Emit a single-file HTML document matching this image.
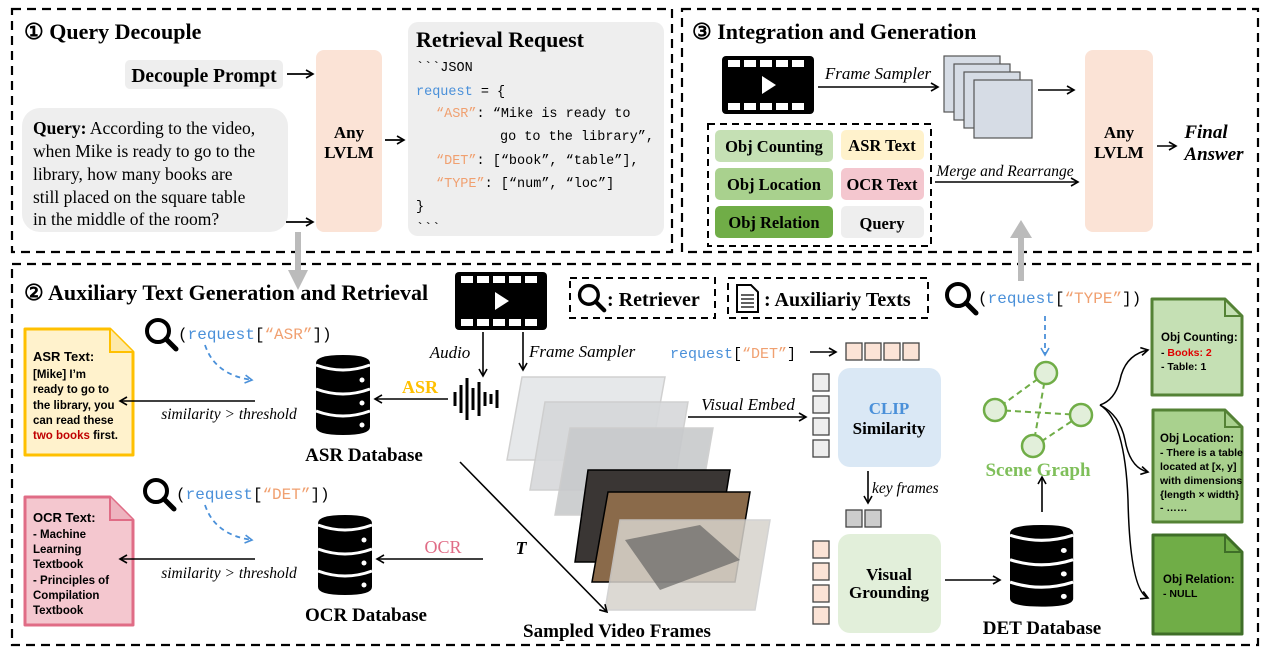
<!DOCTYPE html>
<html><head><meta charset="utf-8"><style>
html,body{margin:0;padding:0;background:#fff;}
svg{display:block;}
.s{font-family:"Liberation Serif",serif;}
.m{font-family:"Liberation Mono",monospace;}
.b{font-weight:bold;}
.i{font-style:italic;}
</style></head><body>
<svg width="1268" height="656" viewBox="0 0 1268 656" xmlns="http://www.w3.org/2000/svg">
<defs>
<marker id="a" markerWidth="10" markerHeight="10" refX="8" refY="5" orient="auto" markerUnits="userSpaceOnUse"><path d="M1,1 L8,5 L1,9" fill="none" stroke="#000" stroke-width="1.6"/></marker>
<marker id="ab" markerWidth="10" markerHeight="10" refX="8" refY="5" orient="auto" markerUnits="userSpaceOnUse"><path d="M1,1 L8,5 L1,9" fill="none" stroke="#4a90d9" stroke-width="1.6"/></marker>
<g id="db"><path d="M0,8 Q0,0 27,0 Q54,0 54,8 L54,72 Q54,80 27,80 Q0,80 0,72Z" fill="#000"/><path d="M0,10 Q27,20 54,10 M0,34 Q27,44 54,34 M0,56 Q27,66 54,56" stroke="#fff" stroke-width="3" fill="none"/><circle cx="46" cy="25" r="2.5" fill="#fff"/><circle cx="46" cy="48" r="2.5" fill="#fff"/><circle cx="46" cy="70" r="2.5" fill="#fff"/></g>
<g id="mg"><circle cx="14" cy="14" r="11" fill="none" stroke="#000" stroke-width="4"/><line x1="22" y1="22" x2="32" y2="32" stroke="#000" stroke-width="5" stroke-linecap="round"/></g>
<g id="film"><rect x="0" y="0" width="92" height="58" rx="4" fill="#000"/><g fill="#fff"><rect x="6" y="4" width="12" height="7"/><rect x="22" y="4" width="12" height="7"/><rect x="38" y="4" width="12" height="7"/><rect x="54" y="4" width="12" height="7"/><rect x="70" y="4" width="12" height="7"/><rect x="6" y="47" width="12" height="7"/><rect x="22" y="47" width="12" height="7"/><rect x="38" y="47" width="12" height="7"/><rect x="54" y="47" width="12" height="7"/><rect x="70" y="47" width="12" height="7"/><path d="M40,20 L54,29 L40,38Z"/></g></g>
</defs>

<rect x="12" y="9" width="660" height="243" fill="none" stroke="#000" stroke-width="2.2" stroke-dasharray="9,6"/>
<rect x="682" y="9" width="576" height="243" fill="none" stroke="#000" stroke-width="2.2" stroke-dasharray="9,6"/>
<rect x="12" y="264" width="1246" height="381" fill="none" stroke="#000" stroke-width="2.2" stroke-dasharray="9,6"/>

<!-- section 1 -->
<text x="24" y="39" class="s b" font-size="22">① Query Decouple</text>
<rect x="125" y="60" width="158" height="29" rx="5" fill="#eeeeee"/>
<text x="204" y="82" class="s b" font-size="19.5" text-anchor="middle">Decouple Prompt</text>
<line x1="287" y1="74" x2="313" y2="74" stroke="#000" stroke-width="1.8" marker-end="url(#a)"/>
<rect x="22" y="108" width="266" height="124" rx="18" fill="#eeeeee"/>
<g class="s" font-size="17.5">
<text x="33" y="134"><tspan class="b">Query:</tspan> According to the video,</text>
<text x="33" y="157">when Mike is ready to go to the</text>
<text x="33" y="180">library, how many books are</text>
<text x="33" y="203">still placed on the square table</text>
<text x="33" y="225">in the middle of the room?</text>
</g>
<line x1="286" y1="222" x2="313" y2="222" stroke="#000" stroke-width="1.8" marker-end="url(#a)"/>
<rect x="316" y="50" width="66" height="182" rx="8" fill="#fbe3d6"/>
<text x="349" y="138" class="s b" font-size="17" text-anchor="middle">Any</text>
<text x="349" y="158" class="s b" font-size="17" text-anchor="middle">LVLM</text>
<line x1="385" y1="140" x2="404" y2="140" stroke="#000" stroke-width="1.8" marker-end="url(#a)"/>
<rect x="408" y="22" width="256" height="214" rx="10" fill="#eeeeee"/>
<text x="416" y="47" class="s b" font-size="22">Retrieval Request</text>
<g class="m" font-size="13.5">
<text x="416" y="71">&#96;&#96;&#96;JSON</text>
<text x="416" y="95"><tspan fill="#4a90d9">request</tspan> = {</text>
<text x="436" y="117"><tspan fill="#f0a070">“ASR”</tspan>: “Mike is ready to</text>
<text x="500" y="140">go to the library”,</text>
<text x="436" y="164"><tspan fill="#f0a070">“DET”</tspan>: [“book”, “table”],</text>
<text x="436" y="187"><tspan fill="#f0a070">“TYPE”</tspan>: [“num”, “loc”]</text>
<text x="416" y="210">}</text>
<text x="416" y="232">&#96;&#96;&#96;</text>
</g>
<rect x="295" y="232" width="6" height="40" fill="#bbb"/>
<path d="M288,270 L308,270 L298,290Z" fill="#bbb"/>

<!-- section 3 -->
<text x="692" y="39" class="s b" font-size="22">③ Integration and Generation</text>
<use href="#film" x="722" y="56"/>
<text x="878" y="79" class="s i" font-size="17" text-anchor="middle">Frame Sampler</text>
<line x1="818" y1="87" x2="938" y2="87" stroke="#000" stroke-width="1.6" marker-end="url(#a)"/>
<g stroke="#555" stroke-width="1.2" fill="#d6dce5">
<rect x="944" y="56" width="56" height="56"/><rect x="954" y="64" width="56" height="56"/><rect x="964" y="72" width="56" height="56"/><rect x="974" y="80" width="58" height="58"/></g>
<line x1="1038" y1="90" x2="1074" y2="90" stroke="#000" stroke-width="1.6" marker-end="url(#a)"/>
<rect x="1085" y="50" width="68" height="182" rx="8" fill="#fbe3d6"/>
<text x="1119" y="138" class="s b" font-size="17" text-anchor="middle">Any</text>
<text x="1119" y="158" class="s b" font-size="17" text-anchor="middle">LVLM</text>
<line x1="1157" y1="146" x2="1176" y2="146" stroke="#000" stroke-width="1.6" marker-end="url(#a)"/>
<text x="1206" y="138" class="s b i" font-size="19" text-anchor="middle">Final</text>
<text x="1214" y="160" class="s b i" font-size="19" text-anchor="middle">Answer</text>
<rect x="708" y="124" width="223" height="122" fill="none" stroke="#000" stroke-width="2" stroke-dasharray="7,5"/>
<g class="s b" font-size="16.5" text-anchor="middle">
<rect x="715" y="130" width="118" height="32" rx="5" fill="#c5e0b4"/><text x="774" y="152">Obj Counting</text>
<rect x="841" y="130" width="83" height="30" rx="5" fill="#fff2cc"/><text x="882" y="151">ASR Text</text>
<rect x="715" y="168" width="118" height="32" rx="5" fill="#a9d18e"/><text x="774" y="190">Obj Location</text>
<rect x="841" y="168" width="83" height="32" rx="5" fill="#f4c7cf"/><text x="882" y="190">OCR Text</text>
<rect x="715" y="206" width="118" height="32" rx="5" fill="#70ad47"/><text x="774" y="228">Obj Relation</text>
<rect x="841" y="206" width="83" height="32" rx="5" fill="#eeeeee"/><text x="882" y="229">Query</text>
</g>
<text x="1005" y="176" class="s i" font-size="15.5" text-anchor="middle">Merge and Rearrange</text>
<line x1="935" y1="182" x2="1078" y2="182" stroke="#000" stroke-width="1.6" marker-end="url(#a)"/>
<rect x="1018" y="236" width="6" height="45" fill="#bbb"/>
<path d="M1010,238 L1032,238 L1021,220Z" fill="#bbb"/>

<!-- section 2 -->
<text x="24" y="300" class="s b" font-size="22">② Auxiliary Text Generation and Retrieval</text>
<use href="#film" x="455" y="272"/>
<rect x="570" y="278" width="145" height="40" fill="none" stroke="#000" stroke-width="2" stroke-dasharray="7,5"/>
<use href="#mg" transform="translate(577,283) scale(0.85)"/>
<text x="607" y="306" class="s b" font-size="20">: Retriever</text>
<rect x="728" y="278" width="200" height="40" fill="none" stroke="#000" stroke-width="2" stroke-dasharray="7,5"/>
<path d="M737,285 L751,285 L758,292 L758,312 L737,312Z" fill="none" stroke="#000" stroke-width="2"/>
<path d="M741,295 L754,295 M741,299 L754,299 M741,303 L754,303 M741,307 L754,307" stroke="#000" stroke-width="1.3"/>
<text x="764" y="306" class="s b" font-size="20">: Auxiliariy Texts</text>

<!-- ASR -->
<path d="M25,329 L110,329 L133,352 L133,455 L25,455Z" fill="#fff2cc" stroke="#ffc000" stroke-width="3" stroke-linejoin="round"/>
<path d="M110,329 L110,352 L133,352" fill="#fde9a8" stroke="#ffc000" stroke-width="2"/>
<g font-family="Liberation Sans,sans-serif" font-size="11.5" font-weight="bold">
<text x="33" y="361" font-size="13">ASR Text:</text>
<text x="33" y="378">[Mike] I’m</text><text x="33" y="393">ready to go to</text><text x="33" y="409">the library, you</text><text x="33" y="424">can read these</text><text x="33" y="439"><tspan fill="#c00000">two books</tspan> first.</text></g>
<use href="#mg" x="144" y="317"/>
<text x="178" y="339" class="m" font-size="16">(<tspan fill="#4a90d9">request</tspan>[<tspan fill="#f0a070">“ASR”</tspan>])</text>
<path d="M205,345 Q215,375 252,380" fill="none" stroke="#4a90d9" stroke-width="1.8" stroke-dasharray="5,4" marker-end="url(#ab)"/>
<use href="#db" x="316" y="355"/>
<text x="364" y="461" class="s b" font-size="19" text-anchor="middle">ASR Database</text>
<line x1="255" y1="401" x2="120" y2="401" stroke="#000" stroke-width="1.6" marker-end="url(#a)"/>
<text x="229" y="419" class="s i" font-size="15.5" text-anchor="middle">similarity &gt; threshold</text>
<text x="420" y="393" class="s b" font-size="18" fill="#ffc000" text-anchor="middle">ASR</text>
<line x1="448" y1="399" x2="375" y2="399" stroke="#000" stroke-width="1.6" marker-end="url(#a)"/>
<g stroke="#000" stroke-width="3"><line x1="455" y1="392" x2="455" y2="406"/><line x1="461" y1="385" x2="461" y2="413"/><line x1="467" y1="378" x2="467" y2="420"/><line x1="473" y1="388" x2="473" y2="410"/><line x1="479" y1="382" x2="479" y2="416"/><line x1="485" y1="392" x2="485" y2="406"/><line x1="491" y1="394" x2="491" y2="404"/><line x1="497" y1="390" x2="497" y2="408"/></g>
<text x="450" y="358" class="s i" font-size="17" text-anchor="middle">Audio</text>
<line x1="483" y1="332" x2="483" y2="376" stroke="#000" stroke-width="1.6" marker-end="url(#a)"/>
<line x1="523" y1="332" x2="523" y2="370" stroke="#000" stroke-width="1.6" marker-end="url(#a)"/>
<text x="529" y="357" class="s i" font-size="17">Frame Sampler</text>

<!-- frames -->
<g stroke="#ccc" stroke-width="1.5">
<path d="M522,377 L665,377 L650,460 L507,460Z" fill="#e4e6e8" opacity="0.9"/>
<path d="M545,402 L688,402 L673,490 L530,490Z" fill="#d6d8da" opacity="0.9"/>
<path d="M570,428 L713,428 L698,515 L555,515Z" fill="#c8cacc" opacity="0.9"/>
<path d="M588,470 L730,470 L715,562 L575,562Z" fill="#3a3634" stroke="#000"/>
<path d="M608,492 L750,492 L735,582 L592,582Z" fill="#8a6a4a" stroke="#000"/>
<path d="M620,520 L770,520 L755,610 L605,610Z" fill="#d7d3cc" opacity="0.85"/>
</g>
<path d="M625,540 L700,525 L740,560 L660,590Z" fill="#555" opacity="0.6"/>
<line x1="460" y1="462" x2="607" y2="612" stroke="#000" stroke-width="1.6" marker-end="url(#a)"/>
<text x="521" y="554" class="s b i" font-size="18" text-anchor="middle">T</text>
<text x="617" y="637" class="s b" font-size="19" text-anchor="middle">Sampled Video Frames</text>

<!-- OCR -->
<path d="M25,497 L110,497 L133,520 L133,625 L25,625Z" fill="#f4c7cf" stroke="#e06c86" stroke-width="3" stroke-linejoin="round"/>
<path d="M110,497 L110,520 L133,520" fill="#eeb3bf" stroke="#e06c86" stroke-width="2"/>
<g font-family="Liberation Sans,sans-serif" font-size="11.5" font-weight="bold">
<text x="33" y="522" font-size="13">OCR Text:</text>
<text x="33" y="538">- Machine</text><text x="33" y="553">Learning</text><text x="33" y="568">Textbook</text><text x="33" y="584">- Principles of</text><text x="33" y="599">Compilation</text><text x="33" y="614">Textbook</text></g>
<use href="#mg" x="142" y="477"/>
<text x="176" y="499" class="m" font-size="16">(<tspan fill="#4a90d9">request</tspan>[<tspan fill="#f0a070">“DET”</tspan>])</text>
<path d="M205,505 Q215,535 252,540" fill="none" stroke="#4a90d9" stroke-width="1.8" stroke-dasharray="5,4" marker-end="url(#ab)"/>
<use href="#db" x="318" y="515"/>
<text x="366" y="621" class="s b" font-size="19" text-anchor="middle">OCR Database</text>
<line x1="255" y1="559" x2="120" y2="559" stroke="#000" stroke-width="1.6" marker-end="url(#a)"/>
<text x="229" y="578" class="s i" font-size="15.5" text-anchor="middle">similarity &gt; threshold</text>
<text x="443" y="553" class="s" font-size="18" fill="#e06c86" text-anchor="middle">OCR</text>
<line x1="483" y1="559" x2="377" y2="559" stroke="#000" stroke-width="1.6" marker-end="url(#a)"/>

<!-- CLIP -->
<text x="670" y="358" class="m" font-size="15"><tspan fill="#4a90d9">request</tspan>[<tspan fill="#f0a070">“DET”</tspan>]</text>
<line x1="810" y1="352" x2="836" y2="352" stroke="#000" stroke-width="1.6" marker-end="url(#a)"/>
<g fill="#fbe3d6" stroke="#444" stroke-width="1.3">
<rect x="846" y="343" width="16" height="17"/><rect x="865" y="343" width="16" height="17"/><rect x="884" y="343" width="16" height="17"/><rect x="903" y="343" width="16" height="17"/></g>
<g fill="#eee" stroke="#444" stroke-width="1.3">
<rect x="813" y="374" width="16" height="17"/><rect x="813" y="396" width="16" height="17"/><rect x="813" y="418" width="16" height="17"/><rect x="813" y="440" width="16" height="17"/></g>
<rect x="838" y="368" width="103" height="99" rx="12" fill="#dae8f5"/>
<text x="889" y="414" class="s b" font-size="17" fill="#4a90d9" text-anchor="middle">CLIP</text>
<text x="889" y="434" class="s b" font-size="17" text-anchor="middle">Similarity</text>
<text x="748" y="410" class="s i" font-size="17" text-anchor="middle">Visual Embed</text>
<line x1="688" y1="417" x2="806" y2="417" stroke="#000" stroke-width="1.6" marker-end="url(#a)"/>
<line x1="868" y1="471" x2="868" y2="503" stroke="#000" stroke-width="1.6" marker-end="url(#a)"/>
<text x="872" y="493" class="s i" font-size="15.5">key frames</text>
<g fill="#ccc" stroke="#444" stroke-width="1.3"><rect x="846" y="510" width="16" height="17"/><rect x="865" y="510" width="16" height="17"/></g>
<g fill="#fbe3d6" stroke="#444" stroke-width="1.3">
<rect x="813" y="541" width="16" height="17"/><rect x="813" y="563" width="16" height="17"/><rect x="813" y="585" width="16" height="17"/><rect x="813" y="607" width="16" height="17"/></g>
<rect x="838" y="534" width="103" height="99" rx="12" fill="#e2efda"/>
<text x="889" y="580" class="s b" font-size="17" text-anchor="middle">Visual</text>
<text x="889" y="598" class="s b" font-size="17" text-anchor="middle">Grounding</text>
<line x1="945" y1="580" x2="1000" y2="580" stroke="#000" stroke-width="1.6" marker-end="url(#a)"/>
<use href="#db" transform="translate(1010,525) scale(1.17,1.02)"/>
<text x="1042" y="634" class="s b" font-size="19" text-anchor="middle">DET Database</text>
<line x1="1042" y1="512" x2="1042" y2="477" stroke="#000" stroke-width="1.6" marker-end="url(#a)"/>

<!-- scene graph -->
<use href="#mg" x="944" y="281"/>
<text x="978" y="303" class="m" font-size="16">(<tspan fill="#4a90d9">request</tspan>[<tspan fill="#f0a070">“TYPE”</tspan>])</text>
<line x1="1045" y1="316" x2="1045" y2="355" stroke="#4a90d9" stroke-width="1.8" stroke-dasharray="5,4" marker-end="url(#ab)"/>
<g stroke="#70ad47" stroke-width="2" stroke-dasharray="6,4" fill="none">
<line x1="1046" y1="373" x2="995" y2="410"/><line x1="1046" y1="373" x2="1033" y2="447"/><line x1="995" y1="410" x2="1081" y2="415"/><line x1="1033" y1="447" x2="1081" y2="415"/></g>
<g fill="#e2efda" stroke="#70ad47" stroke-width="2.5">
<circle cx="1046" cy="373" r="11"/><circle cx="995" cy="410" r="11"/><circle cx="1081" cy="415" r="11"/><circle cx="1033" cy="446" r="11"/></g>
<text x="1038" y="476" class="s b" font-size="19" fill="#7fbf5a" text-anchor="middle">Scene Graph</text>

<g fill="none" stroke="#000" stroke-width="1.5">
<path d="M1100,405 Q1115,400 1120,380 Q1125,355 1148,350" marker-end="url(#a)"/>
<path d="M1100,405 Q1120,415 1125,440 Q1130,468 1148,472" marker-end="url(#a)"/>
<path d="M1100,405 Q1125,420 1128,500 Q1130,590 1148,598" marker-end="url(#a)"/>
</g>
<g font-family="Liberation Sans,sans-serif" font-size="10.5" font-weight="bold">
<path d="M1152,299 L1225,299 L1242,316 L1242,395 L1152,395Z" fill="#c5e0b4" stroke="#548235" stroke-width="3" stroke-linejoin="round"/>
<path d="M1225,299 L1225,316 L1242,316" fill="none" stroke="#548235" stroke-width="2"/>
<text x="1161" y="341" font-size="11.5">Obj Counting:</text>
<text x="1161" y="356"><tspan>- </tspan><tspan fill="#e00000">Books: 2</tspan></text>
<text x="1161" y="370">- Table: 1</text>
<path d="M1153,410 L1225,410 L1242,427 L1242,522 L1153,522Z" fill="#a9d18e" stroke="#548235" stroke-width="3" stroke-linejoin="round"/>
<path d="M1225,410 L1225,427 L1242,427" fill="none" stroke="#548235" stroke-width="2"/>
<text x="1160" y="442" font-size="11.5">Obj Location:</text>
<text x="1160" y="456">- There is a table</text>
<text x="1160" y="470">located at [x, y]</text>
<text x="1160" y="484">with dimensions</text>
<text x="1160" y="498">{length × width}</text>
<text x="1160" y="511">- ……</text>
<path d="M1153,535 L1225,535 L1242,552 L1242,634 L1153,634Z" fill="#70ad47" stroke="#3f6e28" stroke-width="3" stroke-linejoin="round"/>
<path d="M1225,535 L1225,552 L1242,552" fill="none" stroke="#3f6e28" stroke-width="2"/>
<text x="1163" y="583" font-size="11.5">Obj Relation:</text>
<text x="1163" y="597">- NULL</text>
</g>
</svg>
</body></html>
